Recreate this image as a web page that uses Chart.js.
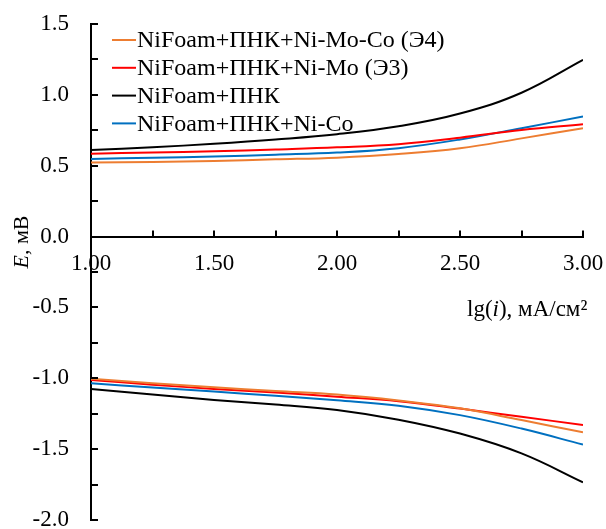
<!DOCTYPE html>
<html>
<head>
<meta charset="utf-8">
<script src="https://cdn.jsdelivr.net/npm/chart.js@4"></script>
<style>
  html, body { margin: 0; padding: 0; background: #fff; }
</style>
</head>
<body>
<canvas id="myChart" width="606" height="529"></canvas>
<script>
// Data
const lgI = [1.00, 1.25, 1.50, 1.75, 2.00, 2.25, 2.50, 2.75, 3.00];

const seriesNames = [
  "NiFoam+ПНК+Ni-Mo-Co (Э4)",
  "NiFoam+ПНК+Ni-Mo (Э3)",
  "NiFoam+ПНК",
  "NiFoam+ПНК+Ni-Co"
];
const seriesColors = ["#ED7D31", "#FF0000", "#000000", "#0070C0"];

// anodic branch (upper)
const anodE4   = [0.522, 0.527, 0.534, 0.545, 0.557, 0.582, 0.623, 0.693, 0.764];
const anodE3   = [0.585, 0.593, 0.602, 0.615, 0.630, 0.652, 0.698, 0.752, 0.792];
const anodPNK  = [0.610, 0.630, 0.655, 0.685, 0.722, 0.778, 0.868, 1.015, 1.247];
const anodNiCo = [0.548, 0.556, 0.565, 0.578, 0.593, 0.624, 0.685, 0.765, 0.847];

// cathodic branch (lower)
const cathE4   = [-1.004, -1.035, -1.063, -1.090, -1.115, -1.157, -1.212, -1.295, -1.381];
const cathE3   = [-1.012, -1.045, -1.075, -1.100, -1.130, -1.162, -1.214, -1.272, -1.329];
const cathPNK  = [-1.075, -1.115, -1.153, -1.185, -1.223, -1.292, -1.390, -1.530, -1.734];
const cathNiCo = [-1.035, -1.065, -1.094, -1.123, -1.155, -1.193, -1.260, -1.355, -1.468];

const yTicks = { min: -2.0, max: 1.5, step: 0.25 };
const xTicks = { min: 1.0, max: 3.0, step: 0.25 };

const anodic = [anodE4, anodE3, anodPNK, anodNiCo];
const cathodic = [cathE4, cathE3, cathPNK, cathNiCo];

const toPoints = arr => arr.map((v, i) => ({ x: lgI[i], y: v }));

const datasets = [];
anodic.forEach((arr, i) => datasets.push({
  label: seriesNames[i], data: toPoints(arr), borderColor: seriesColors[i]
}));
cathodic.forEach((arr, i) => datasets.push({
  label: seriesNames[i] + " (cath)", data: toPoints(arr), borderColor: seriesColors[i]
}));
datasets.forEach(d => {
  d.borderWidth = 2;
  d.pointRadius = 0;
  d.fill = false;
  d.tension = 0.4;
});

const FONT = "Liberation Serif";

// tick marks (inside), axis titles, legend
const extras = {
  id: "extras",
  afterDraw(chart) {
    const { ctx, scales: { x, y } } = chart;
    const y0 = y.getPixelForValue(0);
    ctx.save();
    ctx.strokeStyle = "#000";
    ctx.lineWidth = 2;
    x.ticks.forEach(t => {
      const px = Math.round(x.getPixelForValue(t.value));
      ctx.beginPath(); ctx.moveTo(px, y0); ctx.lineTo(px, y0 - 6); ctx.stroke();
    });
    y.ticks.forEach(t => {
      const py = Math.round(y.getPixelForValue(t.value));
      ctx.beginPath(); ctx.moveTo(x.left, py); ctx.lineTo(x.left + 7, py); ctx.stroke();
    });

    ctx.fillStyle = "#000";
    ctx.textBaseline = "alphabetic";
    ctx.textAlign = "left";
    // x title: lg(i), мА/см²
    const parts = [["lg(", false], ["i", true], ["), мА/см²", false]];
    let tx = 467;
    parts.forEach(([s, it]) => {
      ctx.font = (it ? "italic " : "") + "23px '" + FONT + "'";
      ctx.fillText(s, tx, 316);
      tx += ctx.measureText(s).width;
    });

    // y title: E, мВ (rotated)
    ctx.save();
    ctx.translate(28, 242);
    ctx.rotate(-Math.PI / 2);
    ctx.font = "italic 22px '" + FONT + "'";
    const wE = ctx.measureText("E").width;
    ctx.font = "22px '" + FONT + "'";
    const wR = ctx.measureText(", мВ").width;
    const sx = -(wE + wR) / 2;
    ctx.font = "italic 22px '" + FONT + "'";
    ctx.fillText("E", sx, 0);
    ctx.font = "22px '" + FONT + "'";
    ctx.fillText(", мВ", sx + wE, 0);
    ctx.restore();

    // legend
    ctx.font = "24px '" + FONT + "'";
    ctx.textBaseline = "middle";
    seriesNames.forEach((name, i) => {
      const ry = 40 + i * 27.8;
      ctx.strokeStyle = seriesColors[i];
      ctx.beginPath(); ctx.moveTo(112, ry); ctx.lineTo(136, ry); ctx.stroke();
      ctx.fillText(name, 137, ry + 1);
    });
    ctx.restore();
  }
};

const ctx = document.getElementById("myChart").getContext("2d");
const myChart = new Chart(ctx, {
  type: "line",
  data: { datasets },
  options: {
    responsive: false,
    animation: false,
    layout: { padding: { left: 0, right: 23, top: 24, bottom: 9 } },
    plugins: { legend: { display: false }, tooltip: { enabled: false } },
    scales: {
      x: {
        type: "linear",
        position: { y: 0 },
        min: xTicks.min, max: xTicks.max,
        grid: { display: true, drawOnChartArea: false, drawTicks: false },
        border: { display: true, color: "#000", width: 2 },
        ticks: {
          stepSize: xTicks.step,
          autoSkip: false, maxRotation: 0, minRotation: 0,
          padding: 14,
          color: "#000",
          font: { family: FONT, size: 23 },
          callback: v => (Math.abs(v * 2 - Math.round(v * 2)) < 1e-6 ? v.toFixed(2) : "")
        },
        afterFit: s => { s.paddingLeft = 0; s.paddingRight = 0; }
      },
      y: {
        type: "linear",
        position: "left",
        min: yTicks.min, max: yTicks.max,
        grid: { display: true, drawOnChartArea: false, drawTicks: false },
        border: { display: true, color: "#000", width: 2 },
        ticks: {
          stepSize: yTicks.step,
          autoSkip: false,
          padding: 22,
          color: "#000",
          font: { family: FONT, size: 23 },
          callback: v => (Math.abs(v * 2 - Math.round(v * 2)) < 1e-6 ? v.toFixed(1) : "")
        },
        afterFit: s => { s.width = 91; s.paddingTop = 0; s.paddingBottom = 0; }
      }
    }
  },
  plugins: [extras]
});
</script>
</body>
</html>
